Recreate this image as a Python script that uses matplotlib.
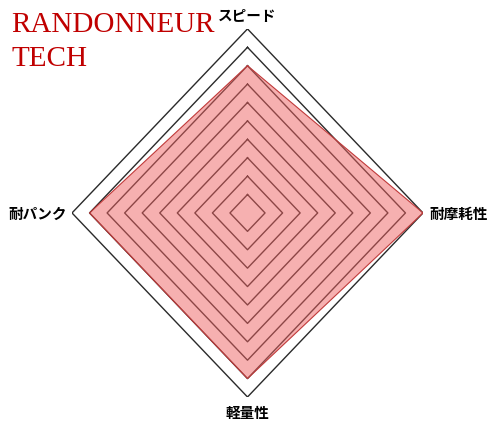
import numpy as np
import matplotlib.pyplot as plt

# axes clockwise from top
labels = ['スピード', '耐摩耗性', '軽量性', '耐パンク']
values = [8, 10, 9, 9]
levels = list(range(1, 11))
title_lines = ['RANDONNEUR', 'TECH']

plt.rcParams['font.family'] = ['Noto Sans CJK JP', 'DejaVu Sans']

angles = np.array([0, 90, 180, 270]) * np.pi / 180


def to_xy(r):
    r = np.asarray(r, dtype=float)
    x = r * np.sin(angles)
    y = r * np.cos(angles)
    return np.append(x, x[0]), np.append(y, y[0])


fig = plt.figure(figsize=(5, 4.31), dpi=100)
ax = fig.add_axes([0.144, 0.0766, 0.702, 0.854])
ax.set_xlim(-10, 10)
ax.set_ylim(-10, 10)
ax.axis('off')

# grid diamonds
for lv in levels:
    gx, gy = to_xy([lv] * 4)
    ax.plot(gx, gy, color='#2a2a2a', linewidth=1.0, zorder=1)

# data polygon
dx, dy = to_xy(values)
ax.fill(dx, dy, color='#ee6262', alpha=0.5, zorder=2, linewidth=0)
ax.plot(dx, dy, color='#c03a3a', linewidth=0.8, zorder=3)

# axis labels
ax.text(0, 10.3, labels[0], ha='center', va='bottom', fontsize=10.5,
        fontweight='bold', clip_on=False)
ax.text(10.35, 0, labels[1], ha='left', va='center', fontsize=10.5,
        fontweight='bold', clip_on=False)
ax.text(0, -10.4, labels[2], ha='center', va='top', fontsize=10.5,
        fontweight='bold', clip_on=False)
ax.text(-10.3, 0, labels[3], ha='right', va='center', fontsize=10.5,
        fontweight='bold', clip_on=False)

# title
fig.text(0.022, 0.972, '\n'.join(title_lines), ha='left', va='top',
         fontsize=21, color='#c00000', family='Liberation Serif',
         linespacing=1.38)

fig.savefig('out.png', dpi=100)
